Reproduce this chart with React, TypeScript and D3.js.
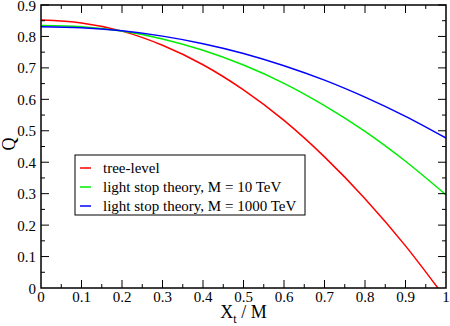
import { useRef, useEffect } from "react";
import * as d3 from "d3";

// data
const xTree = [0, 0.1, 0.2, 0.3, 0.4, 0.5, 0.6, 0.7, 0.8, 0.9, 0.98];
const qTree = [0.852, 0.843, 0.817, 0.772, 0.71, 0.63, 0.533, 0.417, 0.284, 0.134, 0];
const xLight = [0, 0.1, 0.2, 0.3, 0.4, 0.5, 0.6, 0.7, 0.8, 0.9, 1.0];
const qLight10 = [0.835, 0.831, 0.817, 0.792, 0.756, 0.709, 0.651, 0.58, 0.498, 0.403, 0.296];
const qLight1000 = [0.831, 0.828, 0.818, 0.801, 0.777, 0.746, 0.707, 0.661, 0.607, 0.546, 0.477];

const seriesNames = ["tree-level", "light stop theory, M = 10 TeV", "light stop theory, M = 1000 TeV"];
const seriesColors = ["#ff0000", "#00ee00", "#0000ff"];

const xMajor = [0, 0.1, 0.2, 0.3, 0.4, 0.5, 0.6, 0.7, 0.8, 0.9, 1];
const yMajor = [0, 0.1, 0.2, 0.3, 0.4, 0.5, 0.6, 0.7, 0.8, 0.9];

export default function App() {
  const ref = useRef<SVGSVGElement>(null);
  const width = 450, height = 326;
  const mL = 41, mR = 4, mT = 5, mB = 38;

  useEffect(() => {
    const svg = d3.select(ref.current);
    svg.selectAll("*").remove();
    const x = d3.scaleLinear([0, 1], [mL, width - mR]);
    const y = d3.scaleLinear([0, 0.9], [height - mB, mT]);

    // curves
    const sets = [
      xTree.map((d, i) => [d, qTree[i]]),
      xLight.map((d, i) => [d, qLight10[i]]),
      xLight.map((d, i) => [d, qLight1000[i]]),
    ];
    const line = d3.line<number[]>().x(d => x(d[0])).y(d => y(d[1])).curve(d3.curveMonotoneX);
    sets.forEach((s, i) => {
      svg.append("path").attr("d", line(s)).attr("fill", "none")
        .attr("stroke", seriesColors[i]).attr("stroke-width", 1.5);
    });

    // frame
    svg.append("rect").attr("x", x(0)).attr("y", y(0.9))
      .attr("width", x(1) - x(0)).attr("height", y(0) - y(0.9))
      .attr("fill", "none").attr("stroke", "#000").attr("stroke-width", 1.5);

    // ticks on all four sides, inward
    const xMinor = xMajor.slice(0, -1).map(v => v + 0.05);
    const yMinor = yMajor.map(v => v + 0.05);
    const tk = svg.append("g").attr("stroke", "#000").attr("stroke-width", 1);
    const addX = (vals: number[], len: number) => vals.forEach(v => {
      tk.append("line").attr("x1", x(v)).attr("x2", x(v)).attr("y1", y(0)).attr("y2", y(0) - len);
      tk.append("line").attr("x1", x(v)).attr("x2", x(v)).attr("y1", y(0.9)).attr("y2", y(0.9) + len);
    });
    const addY = (vals: number[], len: number) => vals.forEach(v => {
      tk.append("line").attr("y1", y(v)).attr("y2", y(v)).attr("x1", x(0)).attr("x2", x(0) + len);
      tk.append("line").attr("y1", y(v)).attr("y2", y(v)).attr("x1", x(1)).attr("x2", x(1) - len);
    });
    addX(xMajor.slice(1, -1), 8);
    addX(xMinor, 4);
    addY(yMajor.slice(1), 8);
    addY(yMinor, 4);

    // tick labels
    const fmt = (v: number) => (v === 0 ? "0" : v === 1 ? "1" : d3.format(".1f")(v));
    svg.append("g").selectAll("text").data(xMajor).join("text")
      .attr("x", d => x(d)).attr("y", y(0) + 14).attr("text-anchor", "middle")
      .attr("font-size", 15).text(fmt);
    svg.append("g").selectAll("text").data(yMajor).join("text")
      .attr("x", x(0) - 5).attr("y", d => y(d) + 5.5).attr("text-anchor", "end")
      .attr("font-size", 15).text(fmt);

    // axis titles
    svg.append("text").attr("transform", `translate(15,144) rotate(-90)`)
      .attr("text-anchor", "middle").attr("font-size", 18).text("Q");
    const xt = svg.append("text").attr("x", (x(0) + x(1)) / 2).attr("y", 318)
      .attr("text-anchor", "middle").attr("font-size", 18);
    xt.append("tspan").text("X");
    xt.append("tspan").attr("font-size", 12).attr("dy", 5).text("t");
    xt.append("tspan").attr("dy", -5).text(" / M");

    // legend
    const lg = svg.append("g").attr("transform", "translate(75,155)");
    lg.append("rect").attr("width", 230).attr("height", 60).attr("fill", "#fff")
      .attr("stroke", "#000").attr("stroke-width", 1);
    seriesNames.forEach((n, i) => {
      const yy = 13 + i * 19;
      lg.append("line").attr("x1", 5).attr("x2", 16).attr("y1", yy).attr("y2", yy)
        .attr("stroke", seriesColors[i]).attr("stroke-width", 1.5);
      lg.append("text").attr("x", 28).attr("y", yy + 5).attr("font-size", 15).text(n);
    });
  }, []);

  return (
    <svg ref={ref} width={width} height={height}
      style={{ display: "block", position: "absolute", left: 0, top: 0, fontFamily: '"Liberation Serif", serif' }} />
  );
}
